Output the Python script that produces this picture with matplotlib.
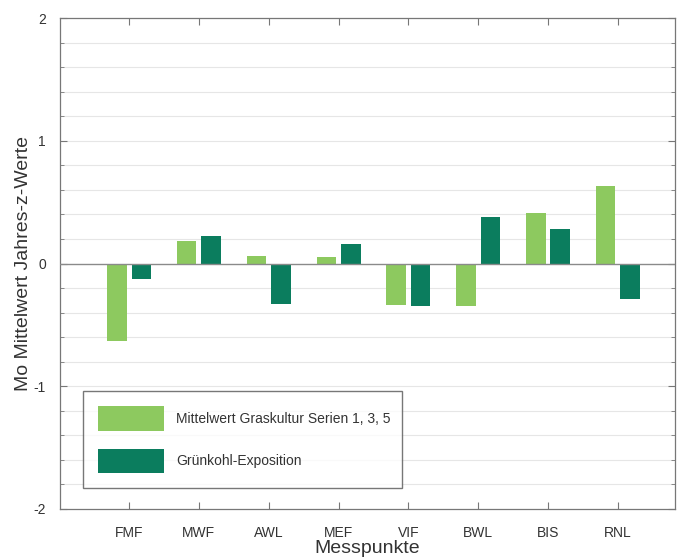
import matplotlib
matplotlib.use('Agg')
import matplotlib.pyplot as plt
import numpy as np

plt.rcParams['font.family'] = ['Liberation Sans', 'DejaVu Sans']
plt.rcParams['axes.unicode_minus'] = False

# Data
stations = ['FMF', 'MWF', 'AWL', 'MEF', 'VIF', 'BWL', 'BIS', 'RNL']
gras = [-0.63, 0.18, 0.065, 0.05, -0.34, -0.35, 0.41, 0.63]
gruenkohl = [-0.13, 0.22, -0.33, 0.16, -0.35, 0.38, 0.28, -0.29]
labels = ['Mittelwert Graskultur Serien 1, 3, 5', 'Grünkohl-Exposition']

light = '#8dc95f'
dark = '#0b7d5e'

fig = plt.figure(figsize=(6.77, 5.58), dpi=100)
ax = fig.add_axes([60/677, 49/558, 615/677, 491/558])

x = np.arange(1, len(stations) + 1)
w = 0.28
ax.bar(x - 0.175, gras, w, color=light, label=labels[0], zorder=3)
ax.bar(x + 0.175, gruenkohl, w, color=dark, label=labels[1], zorder=3)

ax.set_xlim(0.01, 8.82)
ax.set_ylim(-2, 2)
ax.set_yticks([-2, -1, 0, 1, 2])
ax.set_yticks(np.arange(-2, 2.01, 0.2), minor=True)
ax.set_xticks(x)
ax.set_xticklabels(stations)

# light horizontal grid every 0.2, darker zero line
for yv in np.arange(-1.8, 1.81, 0.2):
    if abs(yv) > 1e-6:
        ax.axhline(yv, color='#e6e6e6', lw=0.8, zorder=1)
ax.axhline(0, color='#8a8a8a', lw=1.0, zorder=4)

for s in ax.spines.values():
    s.set_color('#777777')
    s.set_linewidth(0.9)

ax.tick_params(axis='both', which='both', direction='in', top=True, right=True,
               colors='#777777', labelcolor='#333333', labelsize=10)
ax.tick_params(axis='both', which='major', length=5)
ax.tick_params(axis='y', which='minor', length=3)
ax.tick_params(axis='x', pad=12)
ax.tick_params(axis='y', pad=10)

ax.set_xlabel('Messpunkte', fontsize=14, color='#333333', labelpad=0)
ax.set_ylabel('Mo Mittelwert Jahres-z-Werte', fontsize=14, color='#333333', labelpad=1)

leg = ax.legend(loc='lower left', bbox_to_anchor=(23/615, 21/491, 319/615, 96/491),
                mode='expand', fontsize=10, frameon=True, fancybox=False,
                handlelength=4.7, handleheight=2.3, handletextpad=0.9,
                labelspacing=1.3, borderpad=1.1, borderaxespad=0)
leg.get_frame().set_edgecolor('#555555')
leg.get_frame().set_linewidth(1.0)
for t in leg.get_texts():
    t.set_color('#333333')

fig.savefig('out.png', dpi=100)
